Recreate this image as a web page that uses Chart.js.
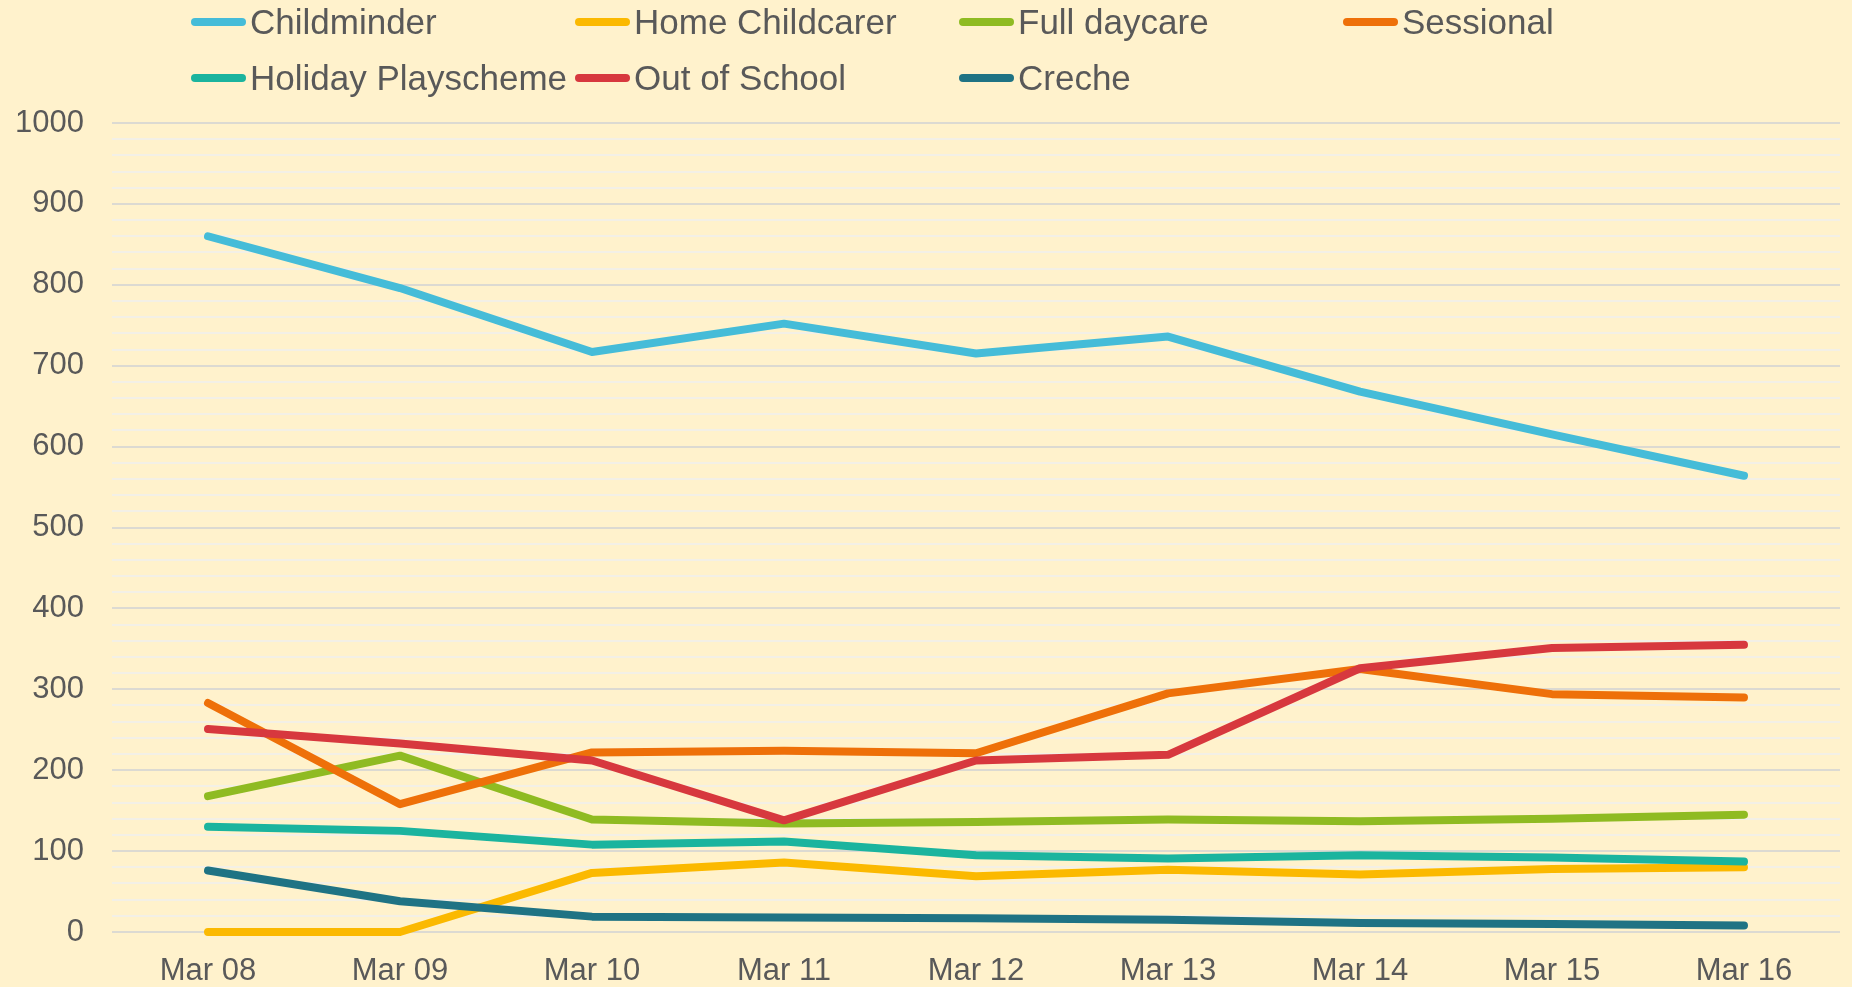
<!DOCTYPE html>
<html>
<head>
<meta charset="utf-8">
<script src="https://cdn.jsdelivr.net/npm/chart.js@4.4.1/dist/chart.umd.min.js"></script>
<style>
    html, body { margin: 0; padding: 0; background: #fff2cc; }
    #wrap { position: relative; width: 1852px; height: 987px; background: #fff2cc; }
    #legend { position: absolute; left: 0; top: 0; width: 1852px; height: 110px; font-family: 'Liberation Sans', Arial, sans-serif; }
    .lg-item { position: absolute; display: flex; align-items: center; height: 40px; color: #595959; font-size: 35px; white-space: nowrap; }
    .lg-line { width: 55px; height: 8px; border-radius: 4px; margin-right: 4px; }
</style>
</head>
<body>
<div id="wrap">
    <canvas id="chart" width="1852" height="987"></canvas>
    <div id="legend"></div>
</div>
<script>
// Registered places by provider type, March 2008 - March 2016

const labels = ['Mar 08', 'Mar 09', 'Mar 10', 'Mar 11', 'Mar 12', 'Mar 13', 'Mar 14', 'Mar 15', 'Mar 16'];

const seriesNames = ['Childminder', 'Home Childcarer', 'Full daycare', 'Sessional', 'Holiday Playscheme', 'Out of School', 'Creche'];

const childminder       = [860, 796, 717, 752, 715, 736, 668, 615, 564];
const homeChildcarer    = [0, 0, 73, 86, 69, 77, 71, 78, 80];
const fullDaycare       = [168, 218, 139, 134, 136, 139, 137, 140, 145];
const sessional         = [283, 158, 222, 224, 221, 295, 325, 294, 290];
const holidayPlayscheme = [130, 125, 108, 112, 95, 91, 95, 92, 87];
const outOfSchool       = [251, 233, 212, 138, 212, 219, 326, 351, 355];
const creche            = [76, 38, 19, 18, 17, 15, 11, 10, 8];

const seriesColors = ['#45bcd8', '#fbb900', '#8fbb22', '#ee7009', '#1bb49e', '#d7383e', '#1f7384'];

// ─── Legend (two rows, fixed columns) ───────────────────────────────────────

const legendCols = [191, 575, 959, 1343];
const legendRows = [22, 78];

function buildLegend() {
    const box = document.getElementById('legend');
    box.innerHTML = seriesNames.map((name, i) => {
        const x = legendCols[i % 4];
        const y = legendRows[Math.floor(i / 4)] - 20;
        return `<div class="lg-item" style="left:${x}px;top:${y}px">
                    <span class="lg-line" style="background:${seriesColors[i]}"></span>${name}
                </div>`;
    }).join('');
}

// ─── Chart ─────────────────────────────────────────────────────────────────

const seriesData = [childminder, homeChildcarer, fullDaycare, sessional, holidayPlayscheme, outOfSchool, creche];
const tickFont = { family: "'Liberation Sans', Arial, sans-serif", size: 31 };

function initChart() {
    const ctx = document.getElementById('chart').getContext('2d');
    new Chart(ctx, {
        type: 'line',
        data: {
            labels: labels,
            datasets: seriesNames.map((name, i) => ({
                label: name,
                data: seriesData[i],
                borderColor: seriesColors[i],
                backgroundColor: seriesColors[i],
                borderWidth: 8,
                borderCapStyle: 'round',
                borderJoinStyle: 'round',
                pointRadius: 0,
                tension: 0,
                fill: false,
                clip: false,
                order: seriesNames.length - i
            }))
        },
        options: {
            responsive: false,
            animation: false,
            layout: { padding: { top: 123, right: 12, left: 0, bottom: 0 } },
            plugins: { legend: { display: false }, tooltip: { enabled: false } },
            scales: {
                x: {
                    offset: true,
                    grid: { display: false },
                    border: { display: false },
                    ticks: { color: '#595959', font: tickFont, padding: 13, maxRotation: 0, autoSkip: false },
                    afterFit: (s) => { s.height = 55; }
                },
                y: {
                    min: 0,
                    max: 1000,
                    border: { display: false },
                    grid: {
                        drawTicks: false,
                        color: (c) => (c.tick && c.tick.value % 100 === 0) ? '#dcdad2' : '#f3f0e6',
                        lineWidth: 2
                    },
                    ticks: {
                        stepSize: 20,
                        autoSkip: false,
                        color: '#595959',
                        font: tickFont,
                        padding: 28,
                        callback: (v) => (v % 100 === 0 ? v : '')
                    },
                    afterFit: (s) => { s.width = 112; }
                }
            }
        }
    });
}

buildLegend();
initChart();
</script>
</body>
</html>
